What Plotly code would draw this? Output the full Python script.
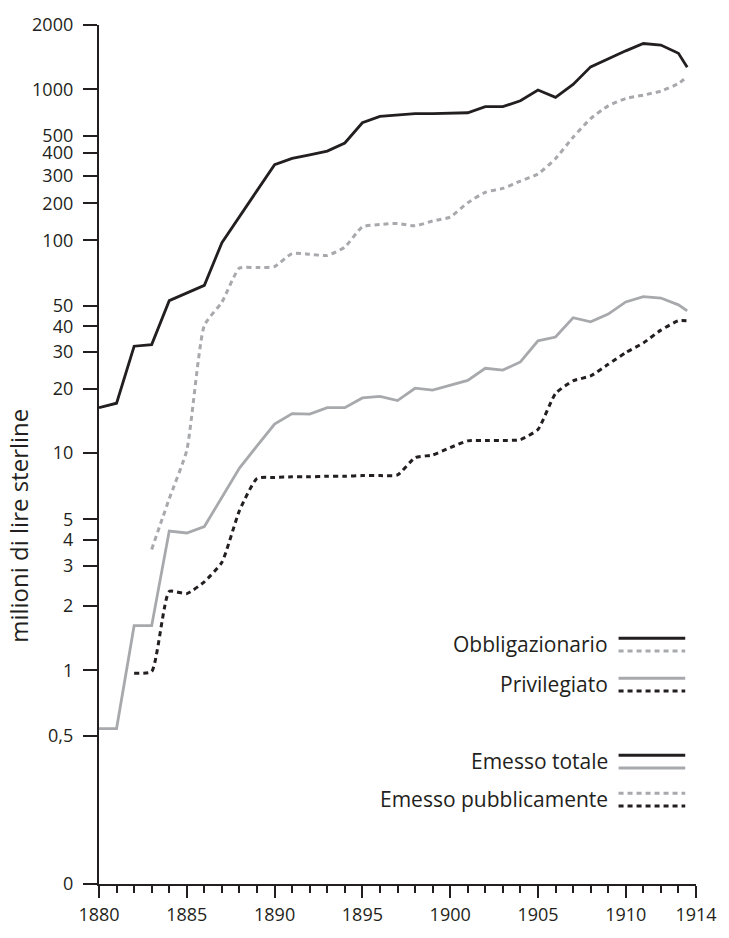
import numpy as np
import plotly.graph_objects as go

# ---------------- data (milioni di lire sterline) ----------------
years_tot_obb = list(range(1880, 1914)) + [1913.5]
tot_obb = [16.3, 17.1, 31.9, 32.5, 52.8, 57.2, 62.1, 97.7, 158, 242,
           345, 373, 390, 409, 456, 610, 670, 687, 697, 697,
           703, 707, 774, 774, 845, 990, 888, 1054, 1274, 1393,
           1514, 1638, 1612, 1475, 1269]

years_pub_obb = list(range(1883, 1914)) + [1913.5]
pub_obb = [3.6, 6.2, 10.3, 40.4, 52, 74.6, 75, 75.9, 87.1, 86.4,
           85.3, 93.3, 129, 135, 137.6, 131.5, 144, 155, 202, 236,
           250, 279, 308, 372, 493, 649, 783, 873, 918, 974,
           1065, 1146]

years_tot_priv = list(range(1880, 1914)) + [1913.5]
tot_priv = [0.54, 0.54, 1.62, 1.62, 4.40, 4.31, 4.62, 6.30, 8.55, 10.8,
            13.66, 15.3, 15.2, 16.3, 16.3, 18.1, 18.4, 17.6, 20.1, 19.7,
            20.8, 21.9, 25.0, 24.5, 26.8, 33.9, 35.4, 43.9, 42.0, 45.7,
            52.1, 55.1, 54.3, 50.5, 47.3]

years_pub_priv = list(range(1882, 1914)) + [1913.5]
pub_priv = [0.97, 0.99, 2.32, 2.27, 2.56, 3.13, 5.48, 7.67, 7.75, 7.8,
            7.8, 7.85, 7.85, 7.9, 7.9, 7.95, 9.53, 9.8, 10.6, 11.4,
            11.45, 11.45, 11.55, 12.9, 19.0, 21.8, 23.0, 26.1, 29.7, 33.1,
            38.3, 42.5, 42.5]

tick_values = [0.5, 1, 2, 3, 4, 5, 10, 20, 30, 40, 50, 100, 200, 300, 400, 500, 1000, 2000]
tick_labels = ["0,5", "1", "2", "3", "4", "5", "10", "20", "30", "40", "50",
               "100", "200", "300", "400", "500", "1000", "2000"]
x_tick_values = [1880, 1885, 1890, 1895, 1900, 1905, 1910, 1914]

# ---------------- axis scale (printed axis is not uniformly logarithmic) ----------------
SCALE_U = [0, 67, 133, 174, 201, 222, 290, 356, 394, 420, 441,
           508, 546, 574, 598, 615, 663, 729]
ZERO_U = -152


def to_axis(v):
    return np.interp(np.log10(np.asarray(v, dtype=float)), np.log10(tick_values), SCALE_U)


BLACK = "#231f20"
GRAY = "#a7a9ac"
FONT = "Open Sans"
DOT = "5px,4px"

W, H = 729, 938
ML, MR, MT, MB = 99, 21, 14, 43
PW, PH = W - ML - MR, H - MT - MB


def px_x(px):
    return (px - ML) / PW


def px_y(py):
    return (H - MB - py) / PH


fig = go.Figure()
series = [
    (years_tot_obb, tot_obb, BLACK, "solid", "Obbligazionario emesso totale"),
    (years_pub_obb, pub_obb, GRAY, DOT, "Obbligazionario emesso pubblicamente"),
    (years_tot_priv, tot_priv, GRAY, "solid", "Privilegiato emesso totale"),
    (years_pub_priv, pub_priv, BLACK, DOT, "Privilegiato emesso pubblicamente"),
]
for xs, vs, col, dash, name in series:
    dotted = dash != "solid"
    fig.add_trace(go.Scatter(x=xs, y=to_axis(vs), mode="lines", name=name,
                             line=dict(color=col, width=3 if dotted else 2.8, dash=dash,
                                       shape="spline" if dotted else "linear",
                                       smoothing=0.5 if dotted else None),
                             showlegend=False, hoverinfo="skip"))

# ---------------- legend drawn as shapes + text ----------------
legend_rows = [
    ("Obbligazionario", 649, [(643, BLACK, "solid"), (656, GRAY, DOT)]),
    ("Privilegiato", 690, [(684, GRAY, "solid"), (697, BLACK, DOT)]),
    ("Emesso totale", 769, [(763, BLACK, "solid"), (776, GRAY, "solid")]),
    ("Emesso pubblicamente", 808, [(802, GRAY, DOT), (815, BLACK, DOT)]),
]
shapes = []
annotations = []
for label, ty, lines in legend_rows:
    annotations.append(dict(text=label, xref="paper", yref="paper", x=px_x(620), y=px_y(ty),
                            xanchor="right", yanchor="middle", showarrow=False,
                            font=dict(family=FONT, size=21, color=BLACK)))
    for ly, col, dash in lines:
        shapes.append(dict(type="line", xref="paper", yref="paper",
                           x0=px_x(629), x1=px_x(697), y0=px_y(ly), y1=px_y(ly),
                           line=dict(color=col, width=3, dash=dash)))

annotations.append(dict(text="milioni di lire sterline", xref="paper", yref="paper",
                        x=px_x(17), y=px_y(528), textangle=-90, xanchor="center", yanchor="middle",
                        showarrow=False, font=dict(family=FONT, size=24, color=BLACK)))

fig.update_layout(
    width=W, height=H,
    margin=dict(l=ML, r=MR, t=MT, b=MB, pad=0),
    paper_bgcolor="white", plot_bgcolor="white",
    font=dict(family=FONT, color=BLACK),
    shapes=shapes, annotations=annotations,
    xaxis=dict(range=[1880, 1914], tickvals=x_tick_values, ticks="outside", ticklen=12,
               tickwidth=2, tickcolor=BLACK, showline=True, linewidth=2.3, linecolor=BLACK,
               showgrid=False, zeroline=False, ticklabelstandoff=1,
               tickfont=dict(family=FONT, size=18, color=BLACK),
               minor=dict(dtick=1, tick0=1880, ticks="outside", ticklen=7, tickwidth=2,
                          tickcolor=BLACK, showgrid=False)),
    yaxis=dict(range=[ZERO_U, SCALE_U[-1]], tickvals=[ZERO_U] + SCALE_U,
               ticktext=["0"] + tick_labels, ticks="outside", ticklen=14, tickwidth=2,
               tickcolor=BLACK, showline=True, linewidth=2.3, linecolor=BLACK,
               showgrid=False, zeroline=False, ticklabelstandoff=6,
               tickfont=dict(family=FONT, size=18, color=BLACK)),
)

fig.write_html("out.html")
